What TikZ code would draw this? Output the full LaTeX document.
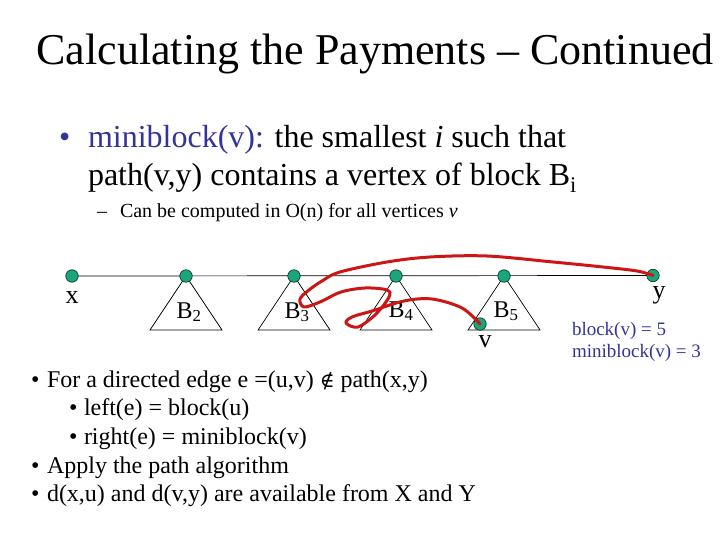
\documentclass[tikz,border=0pt]{standalone}
\usepackage{fontspec}
\setmainfont{Liberation Serif}
\newfontfamily\symfnt{DejaVu Serif}
\definecolor{slideblue}{RGB}{51,51,153}
\definecolor{vgreen}{RGB}{26,166,122}
\definecolor{pathred}{RGB}{204,22,22}
\pgfdeclarelayer{background}
\pgfsetlayers{background,main}
\tikzset{
  vertex/.style={circle, draw=black!75!vgreen, fill=vgreen, minimum size=12.5pt, inner sep=0pt, line width=0.6pt},
  tri/.style={draw=black, line width=0.7pt},
  txt/.style={anchor=base west, inner sep=0pt, outer sep=0pt},
  lbl/.style={anchor=base, inner sep=0pt, outer sep=0pt, font=\fontsize{26}{30}\selectfont},
  blbl/.style={anchor=base, inner sep=0pt, outer sep=0pt, font=\fontsize{24}{28}\selectfont},
  redpath/.style={draw=pathred, line width=3pt, line cap=round, line join=round},
  bodyfont/.style={font=\fontsize{24}{28.8}\selectfont},
  bigfont/.style={font=\fontsize{32}{38}\selectfont},
}
\begin{document}
\begin{tikzpicture}[x=1pt,y=-1pt]
\useasboundingbox (0,0) rectangle (720,540);

% title
\node[txt, font=\fontsize{44}{52}\selectfont] (title) at (36.5,65) {Calculating the Payments -- Continued};

% main bullet
\node[txt, bigfont, text=slideblue] (b1) at (59,148) {\textbullet};
\node[txt, bigfont] (l1) at (88,148) {\textcolor{slideblue}{miniblock(v):} the smallest \textit{i} such that};
\node[txt, bigfont] (l2) at (88,186) {path(v,y) contains a vertex of block B\textsubscript{i}};
\node[txt, font=\fontsize{20}{24}\selectfont] (d1) at (97,218) {--};
\node[txt, font=\fontsize{20}{24}\selectfont] (s1) at (120,218) {Can be computed in O(n) for all vertices \textit{v}};

% vertices
\node[vertex] (x) at (72,276) {};
\node[vertex] (b2) at (186,276) {};
\node[vertex] (b3) at (294,276) {};
\node[vertex] (b4) at (396,276) {};
\node[vertex] (b5) at (504,276) {};
\node[vertex] (y) at (653,275.5) {};
\node[vertex] (v) at (480,324) {};

\begin{pgfonlayer}{background}
  \draw[tri] (x.center) -- (y.center);
  \foreach \n in {b2,b3,b4,b5}{
    \draw[tri] (\n.center) -- ++(-36,54) -- ++(72,0) -- cycle;
  }
\end{pgfonlayer}

% labels
\node[lbl] (xl) at (72,303) {x};
\node[lbl] (yl) at (659,298) {y};
\node[lbl] (vl) at (485,347) {v};
\node[blbl] (B2) at (189,318) {B\textsubscript{2}};
\node[blbl] (B3) at (297,318) {B\textsubscript{3}};
\node[blbl] (B4) at (401,317) {B\textsubscript{4}};
\node[blbl] (B5) at (506,317) {B\textsubscript{5}};

\node[txt, font=\fontsize{19}{22}\selectfont, text=slideblue] (bv) at (572,335) {block(v) = 5};
\node[txt, font=\fontsize{19}{22}\selectfont, text=slideblue] (mbv) at (572,357) {miniblock(v) = 3};

% red path
\draw[redpath] plot[smooth, tension=0.55] coordinates {
  (v.center) (462,308) (432,299) (404,301) (372,311) (352,317) (346,323)
  (358,327) (376,314) (389,297) (387,290) (365,288) (341,292) (320,302)
  (304,307) (300,299) (309,290) (322,281) (340,272) (387,262) (430,257)
  (487,256) (553,262) (603,267) (637,271) (y.center)};

% bottom bullets
\node[txt, bodyfont] (p1b) at (31,387) {\textbullet};
\node[txt, bodyfont] (p1) at (47,387) {For a directed edge e =(u,v) {\symfnt\fontsize{20}{24}\selectfont ∉} path(x,y)};
\node[txt, bodyfont] (p2b) at (69,415.7) {\textbullet};
\node[txt, bodyfont] (p2) at (84,415.7) {left(e) = block(u)};
\node[txt, bodyfont] (p3b) at (69,444.4) {\textbullet};
\node[txt, bodyfont] (p3) at (84,444.4) {right(e) = miniblock(v)};
\node[txt, bodyfont] (p4b) at (31,473) {\textbullet};
\node[txt, bodyfont] (p4) at (47,473) {Apply the path algorithm};
\node[txt, bodyfont] (p5b) at (31,501.8) {\textbullet};
\node[txt, bodyfont] (p5) at (47,501.8) {d(x,u) and d(v,y) are available from X and Y};
\end{tikzpicture}
\end{document}
